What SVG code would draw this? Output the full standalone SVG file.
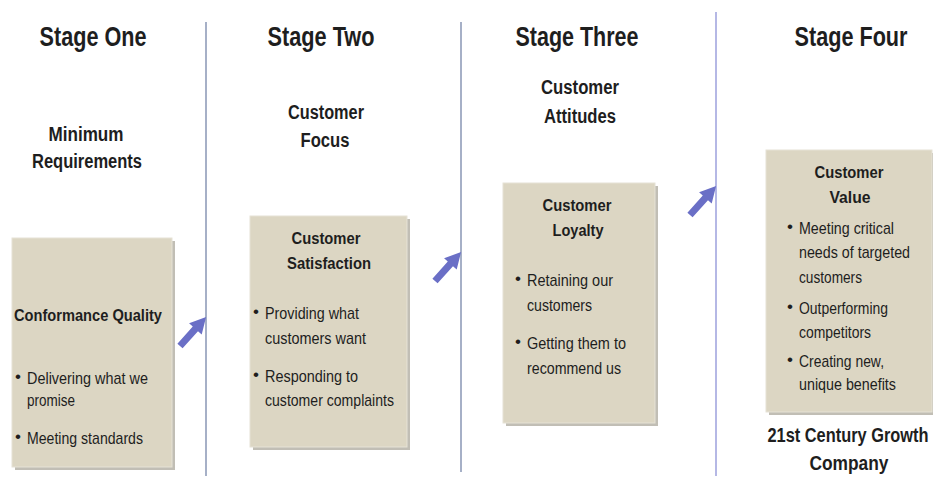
<svg xmlns="http://www.w3.org/2000/svg" width="936" height="478" viewBox="0 0 936 478">
<style>
text{font-family:"Liberation Sans",Arial,sans-serif;fill:#1e1e1e}
.t{font-size:27px;font-weight:bold;text-anchor:middle}
.s{font-size:20px;font-weight:bold;text-anchor:middle}
.h{font-size:17px;font-weight:bold;text-anchor:middle}
.b{font-size:17px}
.box{fill:#dcd6c3;stroke:#e6e2d6;stroke-width:1}
.sh{fill:#a7a396;opacity:.7}
.div{stroke:#8896b4;stroke-width:1.5}
.arr{fill:#6a6fc6}
</style>
<defs>
<polygon id="arrow" points="0,-3.5 23,-3.5 23,-8.5 39,0 23,8.5 23,3.5 0,3.5"/>
</defs>
<rect width="936" height="478" fill="#ffffff"/>
<g id="dividers">
<line class="div" x1="206" y1="22" x2="206" y2="476"/>
<line class="div" x1="461" y1="22" x2="461" y2="472"/>
<line class="div" x1="716" y1="12" x2="716" y2="476" style="stroke:#9da0dc"/>
</g>
<g id="titles">
<text class="t" x="93" y="46" textLength="107" lengthAdjust="spacingAndGlyphs">Stage One</text>
<text class="t" x="321" y="46" textLength="107" lengthAdjust="spacingAndGlyphs">Stage Two</text>
<text class="t" x="577" y="46" textLength="123" lengthAdjust="spacingAndGlyphs">Stage Three</text>
<text class="t" x="851" y="46" textLength="113" lengthAdjust="spacingAndGlyphs">Stage Four</text>
</g>
<g id="subtitles">
<text class="s" x="86" y="141" textLength="75" lengthAdjust="spacingAndGlyphs">Minimum</text>
<text class="s" x="87" y="168" textLength="110" lengthAdjust="spacingAndGlyphs">Requirements</text>
<text class="s" x="326" y="119" textLength="76" lengthAdjust="spacingAndGlyphs">Customer</text>
<text class="s" x="325" y="147" textLength="49" lengthAdjust="spacingAndGlyphs">Focus</text>
<text class="s" x="580" y="94" textLength="78" lengthAdjust="spacingAndGlyphs">Customer</text>
<text class="s" x="580" y="123" textLength="72" lengthAdjust="spacingAndGlyphs">Attitudes</text>
</g>
<g id="stage1">
<rect class="sh" x="15" y="241" width="160" height="229"/>
<rect class="box" x="12" y="238" width="160" height="229"/>
<text class="h" x="88" y="321" textLength="148" lengthAdjust="spacingAndGlyphs">Conformance Quality</text>
<text class="b" x="15" y="382">•</text>
<text class="b" x="27" y="384" textLength="121" lengthAdjust="spacingAndGlyphs">Delivering  what we</text>
<text class="b" x="27" y="406" textLength="48" lengthAdjust="spacingAndGlyphs">promise</text>
<text class="b" x="15" y="442">•</text>
<text class="b" x="27" y="444" textLength="116" lengthAdjust="spacingAndGlyphs">Meeting standards</text>
</g>
<g id="stage2">
<rect class="sh" x="253" y="219" width="157" height="231"/>
<rect class="box" x="250" y="216" width="157" height="231"/>
<text class="h" x="326" y="244" textLength="69" lengthAdjust="spacingAndGlyphs">Customer</text>
<text class="h" x="329" y="269" textLength="84" lengthAdjust="spacingAndGlyphs">Satisfaction</text>
<text class="b" x="253" y="317">•</text>
<text class="b" x="265" y="319" textLength="94" lengthAdjust="spacingAndGlyphs">Providing what</text>
<text class="b" x="265" y="344" textLength="101" lengthAdjust="spacingAndGlyphs">customers want</text>
<text class="b" x="253" y="380">•</text>
<text class="b" x="265" y="382" textLength="93" lengthAdjust="spacingAndGlyphs">Responding to</text>
<text class="b" x="265" y="406" textLength="129" lengthAdjust="spacingAndGlyphs">customer complaints</text>
</g>
<g id="stage3">
<rect class="sh" x="506" y="186" width="152" height="240"/>
<rect class="box" x="503" y="183" width="152" height="240"/>
<text class="h" x="577" y="211" textLength="69" lengthAdjust="spacingAndGlyphs">Customer</text>
<text class="h" x="578" y="236" textLength="51" lengthAdjust="spacingAndGlyphs">Loyalty</text>
<text class="b" x="515" y="284">•</text>
<text class="b" x="527" y="286" textLength="86" lengthAdjust="spacingAndGlyphs">Retaining our</text>
<text class="b" x="527" y="311" textLength="65" lengthAdjust="spacingAndGlyphs">customers</text>
<text class="b" x="515" y="347">•</text>
<text class="b" x="527" y="349" textLength="99" lengthAdjust="spacingAndGlyphs">Getting them to</text>
<text class="b" x="527" y="374" textLength="94" lengthAdjust="spacingAndGlyphs">recommend  us</text>
</g>
<g id="stage4">
<rect class="sh" x="769" y="153" width="164" height="262"/>
<rect class="box" x="766" y="150" width="166" height="262"/>
<text class="h" x="849" y="178" textLength="69" lengthAdjust="spacingAndGlyphs">Customer</text>
<text class="h" x="850" y="203" textLength="41" lengthAdjust="spacingAndGlyphs">Value</text>
<text class="b" x="787" y="232">•</text>
<text class="b" x="799" y="234" textLength="95" lengthAdjust="spacingAndGlyphs">Meeting critical</text>
<text class="b" x="799" y="258" textLength="111" lengthAdjust="spacingAndGlyphs">needs of targeted</text>
<text class="b" x="799" y="283" textLength="63" lengthAdjust="spacingAndGlyphs">customers</text>
<text class="b" x="787" y="312">•</text>
<text class="b" x="799" y="314" textLength="89" lengthAdjust="spacingAndGlyphs">Outperforming</text>
<text class="b" x="799" y="338" textLength="72" lengthAdjust="spacingAndGlyphs">competitors</text>
<text class="b" x="787" y="365">•</text>
<text class="b" x="799" y="367" textLength="85" lengthAdjust="spacingAndGlyphs">Creating new,</text>
<text class="b" x="799" y="390" textLength="97" lengthAdjust="spacingAndGlyphs">unique benefits</text>
<text class="s" transform="translate(848,442) scale(0.82,1)" x="0" y="0">21st Century Growth</text>
<text class="s" x="849" y="470" textLength="79" lengthAdjust="spacingAndGlyphs">Company</text>
</g>
<g id="connectors">
<use href="#arrow" class="arr" transform="translate(180,346) rotate(-48)"/>
<use href="#arrow" class="arr" transform="translate(435,281) rotate(-48)"/>
<use href="#arrow" class="arr" transform="translate(690,215) rotate(-48)"/>
</g>
</svg>
